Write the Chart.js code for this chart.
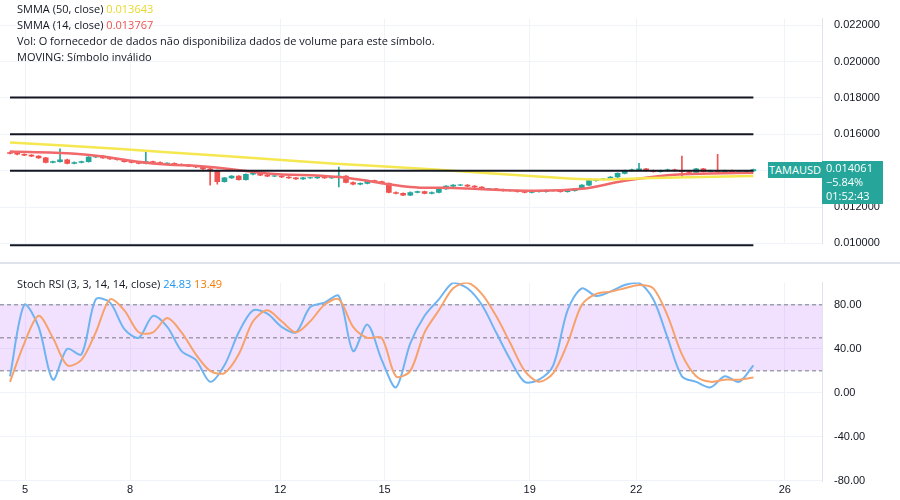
<!DOCTYPE html>
<html lang="pt">
<head>
<meta charset="UTF-8">
<title>TAMAUSD</title>
<script src="https://cdn.jsdelivr.net/npm/chart.js"></script>
<style>
  body { margin:0; width:900px; height:500px; background:#fff; font-family:"Open Sans", Arial, sans-serif; overflow:hidden; position:relative; }
  #mainChart { position:absolute; left:0; top:0; }
  #stochChart { position:absolute; left:0; top:264px; }
  #sep { position:absolute; left:0; top:262px; width:900px; height:2px; background:#e0e3eb; }
  .legend { position:absolute; left:17px; font-size:11px; color:#131722; line-height:16px; }
  .tag { position:absolute; background:#26a69a; color:#fff; font-size:11px; }
</style>
</head>
<body>
<canvas id="mainChart" width="900" height="262"></canvas>
<div id="sep"></div>
<canvas id="stochChart" width="900" height="236"></canvas>

<div class="legend" style="top:1px">
  <div>SMMA (50, close) <span style="color:#e8d82a">0.013643</span></div>
  <div>SMMA (14, close) <span style="color:#ef5350">0.013767</span></div>
  <div>Vol: O fornecedor de dados não disponibiliza dados de volume para este símbolo.</div>
  <div>MOVING: Símbolo inválido</div>
</div>
<div class="legend" style="top:276px">Stoch RSI (3, 3, 14, 14, close) <span style="color:#2196f3">24.83</span> <span style="color:#f57c00">13.49</span></div>
<div class="tag" style="left:768px;top:162px;width:54px;height:16px;line-height:16px;text-align:center;">TAMAUSD</div>
<div class="tag" style="left:822px;top:161px;width:61px;height:43px;line-height:14px;padding-left:4px;box-sizing:border-box;">0.014061<br>−5.84%<br>01:52:43</div>

<script>
// candles, one every ~4.8h; open = previous close
const closes = [
  0.01495,0.01490,0.01485,0.01480,0.01470,0.01445,0.01450,0.01460,0.01440,0.01445,
  0.01450,0.01475,0.01480,0.01470,0.01465,0.01460,0.01450,0.01445,0.01440,0.01450,
  0.01445,0.01440,0.01440,0.01435,0.01430,0.01425,0.01420,0.01410,0.01400,0.01340,
  0.01360,0.01370,0.01350,0.01380,0.01385,0.01375,0.01370,0.01370,0.01365,0.01360,
  0.01355,0.01360,0.01360,0.01365,0.01360,0.01365,0.01370,0.01335,0.01325,0.01330,
  0.01345,0.01340,0.01330,0.01280,0.01275,0.01265,0.01280,0.01285,0.01275,0.01280,
  0.01300,0.01315,0.01320,0.01320,0.01315,0.01310,0.01300,0.01300,0.01295,0.01290,
  0.01290,0.01285,0.01280,0.01285,0.01285,0.01290,0.01290,0.01285,0.01290,0.01300,
  0.01320,0.01345,0.01350,0.01355,0.01365,0.01385,0.01400,0.01405,0.01410,0.01400,
  0.01395,0.01400,0.01405,0.01400,0.01395,0.01390,0.01410,0.01395,0.01400,0.01395,
  0.01400,0.01390,0.01395,0.01398,0.01406
];
const firstOpen = 0.01500;
const spikeHigh = {7:0.01520, 19:0.01505, 46:0.01420, 88:0.01440, 94:0.01480, 99:0.01490};
const spikeLow = {28:0.01320, 46:0.01310, 94:0.01365, 29:0.01325};

// SMMA lines: [index, value]
const smma50 = [[0,0.01555],[15,0.01520],[30,0.01480],[45,0.01440],[60,0.01405],[75,0.01365],[82,0.01352],[90,0.01360],[100,0.01368],[104,0.01370]];
const smma14 = [[0,0.01505],[10,0.01490],[20,0.01440],[28,0.01420],[36,0.01385],[46,0.01365],[56,0.01310],[62,0.01305],[72,0.01290],[80,0.01300],[86,0.01345],[92,0.01375],[98,0.01385],[104,0.01388]];

const levels = [0.01803, 0.01600, 0.01400, 0.00990];

// Stoch RSI, one value every 2 candles
const stochK = [15,80,60,12,40,35,85,82,58,50,70,60,38,30,10,25,55,75,72,60,55,78,82,88,38,62,30,5,45,70,85,100,95,80,55,30,10,12,25,75,95,88,92,98,100,85,50,15,10,5,15,10,25];
const stochD = [10,45,70,50,25,30,55,85,75,55,55,68,55,35,20,18,35,65,75,65,55,65,80,85,60,50,50,15,20,55,75,95,100,90,70,45,20,10,18,45,80,90,92,95,98,95,70,35,15,10,12,12,14];

const dayTicks = [2.1, 16.8, 37.8, 52.4, 72.7, 87.6, 108.4];
const dayLabels = ['5','8','12','15','19','22','26'];

const UP = '#26a69a', DOWN = '#ef5350';
const XMIN = -1.4, XMAX = 113.6;

const bodies = [], wicks = [], colors = [];
closes.forEach((c, i) => {
  const o = i === 0 ? firstOpen : closes[i - 1];
  const hi = spikeHigh[i] !== undefined ? spikeHigh[i] : Math.max(o, c) + 0.00003;
  const lo = spikeLow[i] !== undefined ? spikeLow[i] : Math.min(o, c) - 0.00003;
  bodies.push({x: i, y: [o, Math.abs(o - c) < 0.00002 ? o + (c >= o ? 0.00002 : -0.00002) : c]});
  wicks.push({x: i, y: [lo, hi]});
  colors.push(c >= o ? UP : DOWN);
});

const xAxis = (showLabels) => ({
  type: 'linear', min: XMIN, max: XMAX, offset: false,
  afterBuildTicks: ax => { ax.ticks = dayTicks.map(v => ({value: v})); },
  ticks: { display: showLabels, callback: (v, i) => dayLabels[i], color: '#131722', font: {size: 11}, maxRotation: 0, padding: 2 },
  grid: { color: '#f0f3fa', drawTicks: false, offset: false },
  border: { display: false }
});
const yFit = ax => { ax.width = 78; };

new Chart(document.getElementById('mainChart'), {
  type: 'bar',
  data: {
    datasets: [
      ...levels.map(v => ({ type: 'line', data: [{x: 0, y: v}, {x: 104, y: v}], borderColor: '#131722', borderWidth: 2, pointRadius: 0, clip: false })),
      { type: 'line', data: smma50.map(p => ({x: p[0], y: p[1]})), borderColor: '#f5e74f', borderWidth: 2.5, pointRadius: 0, tension: 0.4 },
      { type: 'line', data: smma14.map(p => ({x: p[0], y: p[1]})), borderColor: '#f0686a', borderWidth: 2.5, pointRadius: 0, tension: 0.4 },
      { type: 'bar', data: wicks, backgroundColor: colors, barThickness: 1, grouped: false },
      { type: 'bar', data: bodies, backgroundColor: colors, barThickness: 5, grouped: false }
    ]
  },
  options: {
    responsive: false, animation: false,
    layout: { padding: 0 },
    plugins: { legend: {display: false}, tooltip: {enabled: false} },
    scales: {
      x: xAxis(false),
      y: { position: 'right', min: 0.009999, max: 0.022363, afterFit: yFit,
        afterBuildTicks: ax => { ax.ticks = [0.010,0.012,0.014,0.016,0.018,0.020,0.022].map(v => ({value: v})); },
        ticks: { callback: v => v.toFixed(6), color: '#131722', font: {size: 11}, padding: 12 },
        grid: { color: '#f0f3fa', drawTicks: false }, border: { color: '#e0e3eb' } }
    }
  }
});

const band = {
  id: 'band',
  beforeDatasetsDraw(chart) {
    const {ctx, chartArea: a, scales: {y}} = chart;
    ctx.save();
    ctx.fillStyle = 'rgba(186,104,255,0.2)';
    ctx.fillRect(a.left, y.getPixelForValue(80), a.right - a.left, y.getPixelForValue(20) - y.getPixelForValue(80));
    ctx.strokeStyle = '#787b86'; ctx.setLineDash([4, 3]); ctx.lineWidth = 1;
    [80, 50, 20].forEach(v => { const p = y.getPixelForValue(v); ctx.beginPath(); ctx.moveTo(a.left, p); ctx.lineTo(a.right, p); ctx.stroke(); });
    ctx.restore();
  }
};

new Chart(document.getElementById('stochChart'), {
  type: 'line',
  data: {
    datasets: [
      { data: stochD.map((v, j) => ({x: j * 2, y: v})), borderColor: '#f7a26b', borderWidth: 2, pointRadius: 0, tension: 0.3 },
      { data: stochK.map((v, j) => ({x: j * 2, y: v})), borderColor: '#6fb4f0', borderWidth: 2, pointRadius: 0, tension: 0.3 }
    ]
  },
  options: {
    responsive: false, animation: false,
    layout: { padding: 0 },
    plugins: { legend: {display: false}, tooltip: {enabled: false} },
    scales: {
      x: xAxis(true),
      y: { position: 'right', min: -80.5, max: 100.2, afterFit: yFit,
        afterBuildTicks: ax => { ax.ticks = [-80,-40,0,40,80].map(v => ({value: v})); },
        ticks: { callback: v => v.toFixed(2), color: '#131722', font: {size: 11}, padding: 12 },
        grid: { color: '#f0f3fa', drawTicks: false }, border: { color: '#e0e3eb' } }
    }
  },
  plugins: [band]
});
</script>
</body>
</html>
